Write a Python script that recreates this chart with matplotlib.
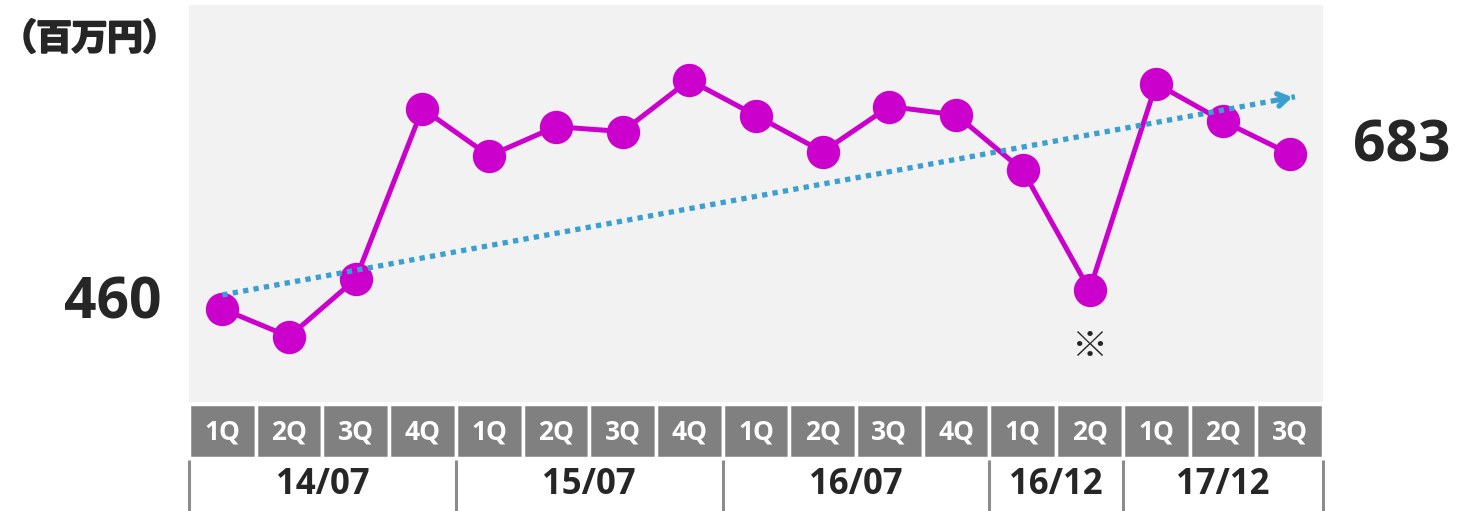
import matplotlib
matplotlib.use("Agg")
import matplotlib.pyplot as plt
import matplotlib.patheffects as pe
from matplotlib.patches import Rectangle

# ---- data ----
quarters = ["1Q", "2Q", "3Q", "4Q", "1Q", "2Q", "3Q", "4Q", "1Q", "2Q", "3Q", "4Q",
            "1Q", "2Q", "1Q", "2Q", "3Q"]
values = [460, 420, 503, 748, 680, 722, 715, 789, 738, 686, 751, 739,
          659, 487, 784, 730, 683]
periods = ["14/07", "15/07", "16/07", "16/12", "17/12"]
period_sizes = [4, 4, 4, 2, 3]
trend_x = [0.5, 16.58]
trend_y = [480, 765]
note_index = 13
note_value = 405

W, H = 1459, 511
MAGENTA = "#cc00cc"
BLUE = "#3ba0d0"
TEXT = "#262626"
NUM_FONT = ["Open Sans", "DejaVu Sans"]
JP_FONT = ["Noto Sans CJK JP", "DejaVu Sans"]

fig = plt.figure(figsize=(W / 100, H / 100), dpi=100)

# plot area in pixels
PL, PR, PT, PB = 189, 1323, 5, 402
ax = fig.add_axes([PL / W, 1 - PB / H, (PR - PL) / W, (PB - PT) / H])
ax.set_facecolor("#f2f2f2")
ax.set_xlim(0, len(values))
ax.set_ylim(326, 897)
for s in ax.spines.values():
    s.set_visible(False)
ax.set_xticks([])
ax.set_yticks([])

xs = [i + 0.5 for i in range(len(values))]
ax.plot(xs, values, color=MAGENTA, linewidth=3.6, marker="o", markersize=24,
        markeredgewidth=0, zorder=3)

# trend arrow
ax.plot(trend_x, trend_y, color=BLUE, linewidth=3.8, linestyle=(0, (1, 1)),
        dash_capstyle="butt", zorder=4)
dx = trend_x[1] - trend_x[0]
dy = trend_y[1] - trend_y[0]
ax.annotate("", xy=(trend_x[1], trend_y[1]),
            xytext=(trend_x[1] - dx * 0.02, trend_y[1] - dy * 0.02),
            arrowprops=dict(arrowstyle="->,head_length=0.7,head_width=0.45",
                            color=BLUE, lw=3.8, capstyle="round"),
            zorder=4)

ax.text(xs[note_index], note_value, "※", ha="center", va="center",
        fontsize=26, color=TEXT, family=JP_FONT)

# ---- category table ----
tb = fig.add_axes([PL / W, 0, (PR - PL) / W, (H - PB) / H])
tb.set_xlim(0, len(values))
tb.set_ylim(H, PB)
tb.axis("off")
for i, q in enumerate(quarters):
    tb.add_patch(Rectangle((i, 404), 1, 54, facecolor="#808080",
                           edgecolor="white", linewidth=2.5))
    tb.text(i + 0.5, 432, q, ha="center", va="center", color="white",
            fontsize=19, fontweight="bold", family=NUM_FONT)

start = 0
bounds = [0]
for p, n in zip(periods, period_sizes):
    tb.text(start + n / 2, 485, p, ha="center", va="center", color=TEXT,
            fontsize=25, fontweight="bold", family=NUM_FONT)
    start += n
    bounds.append(start)
for b in bounds:
    tb.plot([b, b], [460, H], color="#8c8c8c", linewidth=2.2,
            solid_capstyle="butt", clip_on=False)

# ---- side labels ----
fig.text(1 / W, 1 - 39 / H, "（百万円）", ha="left", va="center", color=TEXT,
         fontsize=25.5, fontweight="bold", family=JP_FONT,
         path_effects=[pe.withStroke(linewidth=1.6, foreground=TEXT)])
fig.text(113 / W, 1 - 303 / H, f"{values[0]}", ha="center", va="center",
         color=TEXT, fontsize=41, fontweight="bold", family=NUM_FONT)
fig.text(1402 / W, 1 - 146 / H, f"{values[-1]}", ha="center", va="center",
         color=TEXT, fontsize=41, fontweight="bold", family=NUM_FONT)

fig.savefig("out.png", dpi=100)
